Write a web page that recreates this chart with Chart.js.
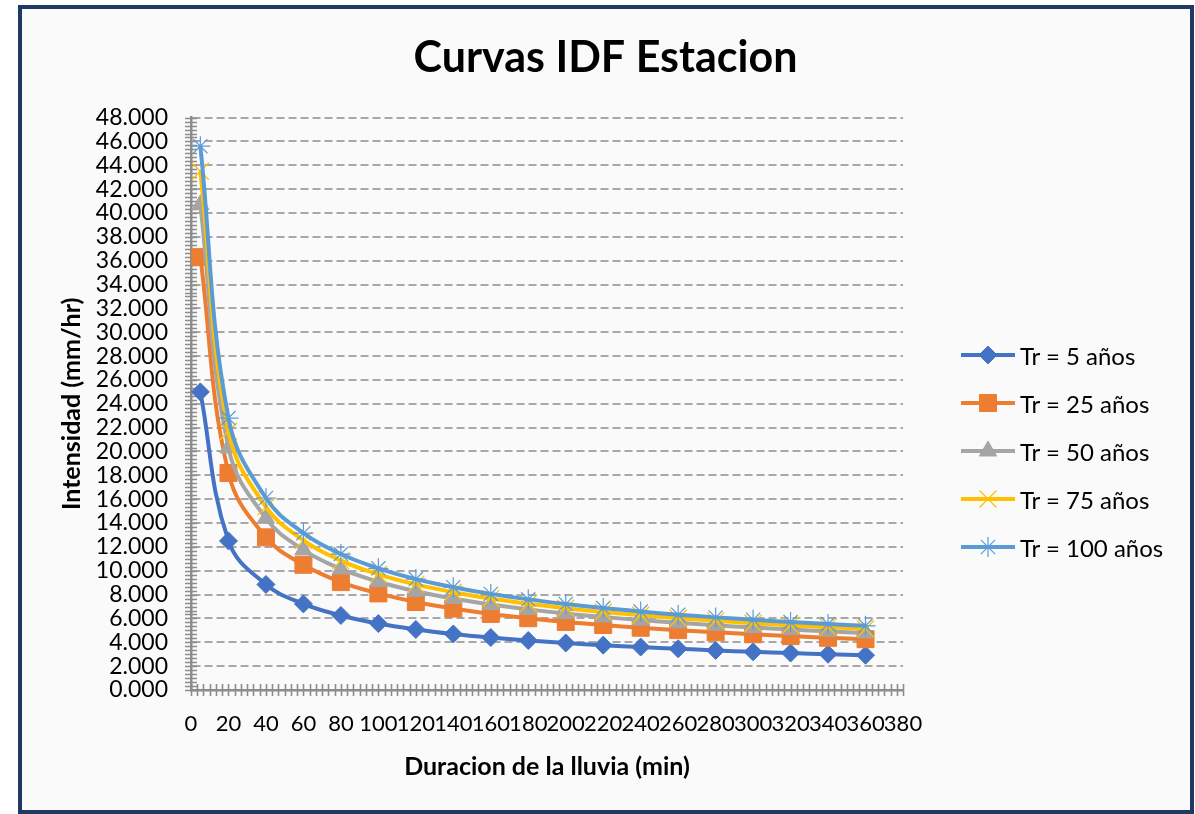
<!DOCTYPE html>
<html>
<head>
<meta charset="utf-8">
<script src="https://cdn.jsdelivr.net/npm/chart.js@4.4.1/dist/chart.umd.min.js"></script>
<style>
body{margin:0;background:#ffffff;font-family:Lato,sans-serif}
#frame{position:absolute;left:18px;top:5px;width:1176px;height:809px;box-sizing:border-box;border:4px solid #1f3864;background:#fafafa}
#idf{position:absolute;left:0;top:0}
#legend{position:absolute;left:960px;top:331px}
.item{height:48px;display:flex;align-items:center;font-size:24px;color:#000}
.item canvas{margin-right:4px}
</style>
</head>
<body>
<div id="frame"></div>
<canvas id="idf" width="1195" height="814"></canvas>
<div id="legend"></div>
<script>

// duracion (min) y intensidad (mm/hr)
const durations=[5,20,40,60,80,100,120,140,160,180,200,220,240,260,280,300,320,340,360]

const tr5=[25.0,12.5,8.85,7.22,6.25,5.57,5.08,4.70,4.40,4.15,3.94,3.76,3.60,3.46,3.32,3.20,3.10,3.00,2.92]
const tr25=[36.3,18.2,12.8,10.5,9.05,8.10,7.38,6.83,6.38,6.02,5.71,5.45,5.22,5.02,4.84,4.67,4.52,4.38,4.26]
const tr50=[40.7,20.3,14.4,11.75,10.15,9.08,8.28,7.67,7.17,6.76,6.41,6.12,5.86,5.63,5.43,5.24,5.08,4.92,4.79]
const tr75=[43.5,21.7,15.35,12.55,10.85,9.70,8.86,8.20,7.67,7.23,6.86,6.54,6.27,6.02,5.80,5.60,5.43,5.27,5.12]
const tr100=[45.6,22.8,16.1,13.15,11.4,10.2,9.30,8.62,8.06,7.60,7.21,6.87,6.58,6.32,6.09,5.89,5.70,5.53,5.38]

const seriesNames=["Tr = 5 años","Tr = 25 años","Tr = 50 años","Tr = 75 años","Tr = 100 años"]
const seriesValues=[tr5,tr25,tr50,tr75,tr100]

const xMax=380
const xStep=20
const yMax=48
const yStep=2

const colors=["#4472C4","#ED7D31","#A5A5A5","#FFC000","#5B9BD5"]
const markers=["rectRot","rect","triangle","crossRot","star"]
const markerRadius=[9,12,10,12,10]

Chart.defaults.font.family="Lato"
Chart.defaults.color="#000"

// marcas de division cruzadas, como en Excel
const crossTicks={
id:"crossTicks",
beforeDatasetsDraw(chart){
const ctx=chart.ctx
const x=chart.scales.x
const y=chart.scales.y
ctx.save()
ctx.strokeStyle="#8c8c8c"
ctx.lineWidth=1.6
ctx.beginPath()
let xMinor=xStep/6
for(let i=0;i<=Math.round(xMax/xMinor);i++){
let px=Math.round(x.getPixelForValue(i*xMinor))+0.5
ctx.moveTo(px,y.bottom-6)
ctx.lineTo(px,y.bottom+6)
}
let yMinor=yStep/6
for(let i=0;i<=Math.round(yMax/yMinor);i++){
let py=Math.round(y.getPixelForValue(i*yMinor))+0.5
ctx.moveTo(x.left-6,py)
ctx.lineTo(x.left+6,py)
}
ctx.stroke()
ctx.restore()
}
}

let datasets=seriesValues.map((vals,i)=>({
label:seriesNames[i],
data:durations.map((d,j)=>({x:d,y:vals[j]})),
borderColor:colors[i],
backgroundColor:colors[i],
borderWidth:4,
pointStyle:markers[i],
pointRadius:markerRadius[i],
pointBorderWidth:i>=3?1.2:1,
pointBackgroundColor:colors[i],
pointBorderColor:colors[i],
tension:0.4,
order:4-i
}))

let chart=new Chart(document.getElementById("idf"),{
type:"line",
data:{datasets:datasets},
plugins:[crossTicks],
options:{
responsive:false,
animation:false,
layout:{padding:{left:16,right:0,top:0,bottom:0}},
plugins:{
legend:{display:false},
tooltip:{enabled:false},
title:{
display:true,
text:"Curvas IDF Estacion",
font:{size:43,weight:"bold"},
padding:{top:32,bottom:34}
}
},
scales:{
x:{
type:"linear",
min:0,
max:xMax,
ticks:{stepSize:xStep,font:{size:22},padding:21,maxRotation:0,autoSkip:false},
grid:{drawOnChartArea:false,drawTicks:false},
border:{color:"#8c8c8c",width:2.5},
title:{display:true,text:"Duracion de la lluvia (min)",font:{size:25,weight:"bold"},padding:{top:0,bottom:32}},
afterFit(scale){scale.height=124}
},
y:{
min:0,
max:yMax,
ticks:{stepSize:yStep,font:{size:23},padding:23,autoSkip:false,callback:v=>v.toFixed(3)},
grid:{color:"#a8a8a8",lineWidth:2,drawTicks:false},
border:{color:"#8c8c8c",width:2.5,dash:[8,4]},
title:{display:true,text:"Intensidad (mm/hr)",font:{size:25,weight:"bold"},padding:{top:41,bottom:0}},
afterFit(scale){scale.width=175}
},
// espacio reservado para la leyenda
side:{
type:"linear",
position:"right",
ticks:{display:false},
grid:{display:false},
border:{display:false},
afterFit(scale){scale.width=292}
}
}
}
})

// leyenda a la derecha
function buildLegend(){

let box=document.getElementById("legend")

chart.data.datasets.forEach((ds,i)=>{

let row=document.createElement("div")
row.className="item"

let icon=document.createElement("canvas")
icon.width=56
icon.height=26
let c=icon.getContext("2d")
c.strokeStyle=ds.borderColor
c.lineWidth=4
c.beginPath()
c.moveTo(1,13)
c.lineTo(55,13)
c.stroke()
c.fillStyle=ds.borderColor
c.lineWidth=ds.pointBorderWidth
Chart.helpers.drawPoint(c,{pointStyle:ds.pointStyle,radius:ds.pointRadius,rotation:0,borderWidth:ds.pointBorderWidth},28,13)

let text=document.createElement("span")
text.textContent=ds.label

row.appendChild(icon)
row.appendChild(text)
box.appendChild(row)

})

}

buildLegend()

</script>
</body>
</html>
